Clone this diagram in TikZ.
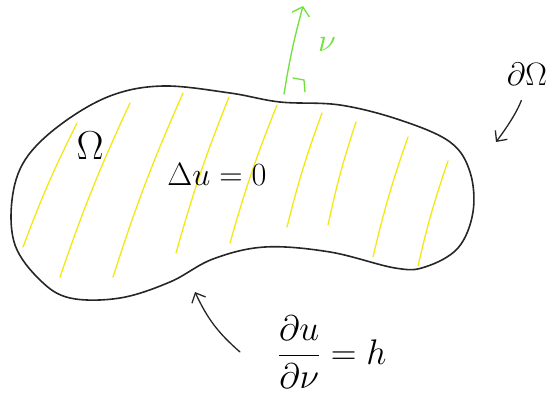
\documentclass[tikz,border=0pt]{standalone}
\usepackage{amsmath}
\usetikzlibrary{arrows.meta}
\definecolor{hatchyellow}{RGB}{242,232,20}
\definecolor{normalgreen}{RGB}{110,225,60}

\begin{document}
\begin{tikzpicture}[x=1pt,y=-1pt,
  outline/.style={line width=1.6pt,black!85,line join=round},
  hatch/.style={line width=1.3pt,hatchyellow,line cap=round},
  pen/.style={line width=1.3pt,black!85,line cap=round,-{Straight Barb[length=8pt,width=15pt]}},
  normalpen/.style={line width=1.3pt,normalgreen,line cap=round},
  handtext/.style={inner sep=0pt,font=\Huge,scale=1.3,transform shape}]
  \useasboundingbox (0,0) rectangle (558,400);

  % hatching inside the region
  \foreach \xa/\ya/\xb/\yb in {77/123/23/247, 130/103/60/277, 183/93/113/277,
      229/97/176/253, 277/105/230/243, 322/113/287/227, 356/122/328/225,
      408/137/373/257, 448/161/418/266}
    \draw[hatch] (\xa,\ya) to[bend right=3] (\xb,\yb);

  % boundary of the region
  \draw[outline] plot[smooth cycle,tension=0.6] coordinates {
      (163,86) (230,93) (280,102) (340,105) (400,120) (450,142) (470,172)
      (473,212) (458,248) (425,267) (395,268) (330,252) (265,247) (213,259)
      (170,282) (120,298) (70,298) (40,280) (15,245) (12,200) (25,160)
      (60,125) (110,96)};

  % outer normal
  \coordinate (foot) at (284,94);
  \coordinate (tip) at (303,6);
  \draw[normalpen,-{Straight Barb[length=8pt,width=18pt]}] (foot) to[bend left=3] (tip);
  \draw[normalpen] (293,78) -- (304,80) -- (305,92);
  \node[handtext,text=normalgreen] (nu) at (327,45) {$\nu$};

  % labels
  \node[handtext] (bdry) at (527,74) {$\partial\Omega$};
  \node[handtext,scale=1.25] (omega) at (90,146) {$\Omega$};
  \node[handtext] (pde) at (217,174) {$\Delta u=0$};
  \node[handtext,scale=1.1] (bc) at (332,352) {$\dfrac{\partial u}{\partial\nu}=h$};

  % pointers to the boundary
  \coordinate (bdryhit) at (496,142);
  \coordinate (bchit) at (195,292);
  \draw[pen,shorten <=16pt] (bdry.south) to[bend left=8] (bdryhit);
  \draw[pen] (240,352) to[bend left=12] (bchit);
\end{tikzpicture}
\end{document}
